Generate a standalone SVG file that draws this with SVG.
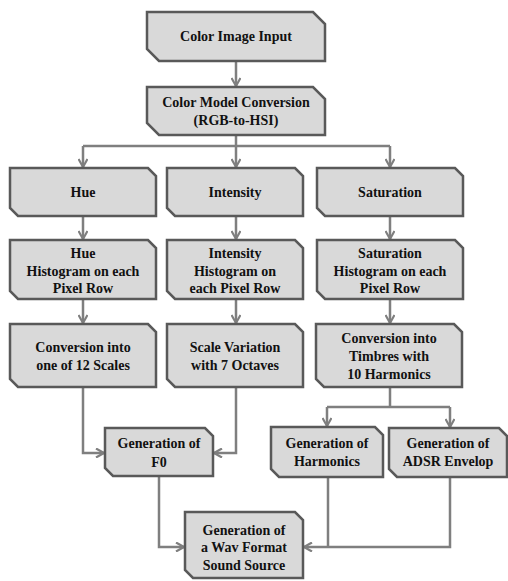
<svg xmlns="http://www.w3.org/2000/svg" width="508" height="581" viewBox="0 0 508 581">
<defs>
<style>
.box{fill:#d9d9d9;stroke:#595959;stroke-width:2.5;stroke-linejoin:miter}
.t{font-family:'Liberation Serif','Times New Roman','DejaVu Serif',serif;font-weight:bold;font-size:14px;fill:#111;text-anchor:middle}
.c{fill:none;stroke:#7f7f7f;stroke-width:2.5}
</style>
<marker id="ah" viewBox="0 0 10 10" refX="9" refY="5" markerWidth="10" markerHeight="10" markerUnits="userSpaceOnUse" orient="auto">
<path d="M1,0.5 L9,5 L1,9.5" fill="none" stroke="#7f7f7f" stroke-width="2.2"/>
</marker>
</defs>
<rect width="508" height="581" fill="#fff"/>
<g id="connectors">
<path class="c" d="M236,61 V86" marker-end="url(#ah)"/>
<path class="c" d="M236,135 V146 M83,146 H390"/>
<path class="c" d="M83,146 V167" marker-end="url(#ah)"/>
<path class="c" d="M236,146 V167" marker-end="url(#ah)"/>
<path class="c" d="M390,146 V167" marker-end="url(#ah)"/>
<path class="c" d="M83,216 V239" marker-end="url(#ah)"/>
<path class="c" d="M236,216 V239" marker-end="url(#ah)"/>
<path class="c" d="M390,216 V239" marker-end="url(#ah)"/>
<path class="c" d="M83,299 V323" marker-end="url(#ah)"/>
<path class="c" d="M236,299 V323" marker-end="url(#ah)"/>
<path class="c" d="M390,299 V323" marker-end="url(#ah)"/>
<path class="c" d="M83,387 V453 H104" marker-end="url(#ah)"/>
<path class="c" d="M236,387 V453 H214" marker-end="url(#ah)"/>
<path class="c" d="M390,387 V407 M327,407 H450"/>
<path class="c" d="M327,407 V426" marker-end="url(#ah)"/>
<path class="c" d="M450,407 V427" marker-end="url(#ah)"/>
<path class="c" d="M159,476 V547 H184" marker-end="url(#ah)"/>
<path class="c" d="M328,477 V547"/>
<path class="c" d="M450,477 V547 H304" marker-end="url(#ah)"/>
</g>
<g id="n1"><path class="box" d="M147,12 H313 L325,24 V61 H159 L147,49 Z"/><text class="t" font-family="Liberation Serif" x="236" y="41">Color Image Input</text></g>
<g id="n2"><path class="box" d="M147,87 H313 L325,99 V135 H159 L147,123 Z"/><text class="t" x="236" y="107">Color Model Conversion</text><text class="t" x="236" y="125">(RGB-to-HSI)</text></g>
<g id="hue"><path class="box" d="M10,168 H148 L156,176 V216 H18 L10,208 Z"/><text class="t" x="83" y="197">Hue</text></g>
<g id="intensity"><path class="box" d="M167,168 H295 L303,176 V216 H175 L167,208 Z"/><text class="t" x="235" y="197">Intensity</text></g>
<g id="saturation"><path class="box" d="M317,168 H455 L463,176 V216 H325 L317,208 Z"/><text class="t" x="390" y="197">Saturation</text></g>
<g id="hueHist"><path class="box" d="M10,240 H148 L156,248 V299 H18 L10,291 Z"/><text class="t" x="83" y="258">Hue</text><text class="t" x="83" y="276">Histogram on each</text><text class="t" x="83" y="293">Pixel Row</text></g>
<g id="intHist"><path class="box" d="M167,240 H295 L303,248 V299 H175 L167,291 Z"/><text class="t" x="235" y="258">Intensity</text><text class="t" x="235" y="276">Histogram on</text><text class="t" x="235" y="293">each Pixel Row</text></g>
<g id="satHist"><path class="box" d="M317,240 H455 L463,248 V299 H325 L317,291 Z"/><text class="t" x="390" y="258">Saturation</text><text class="t" x="390" y="276">Histogram on each</text><text class="t" x="390" y="293">Pixel Row</text></g>
<g id="hueConv"><path class="box" d="M10,324 H148 L156,332 V387 H18 L10,379 Z"/><text class="t" x="83" y="352">Conversion into</text><text class="t" x="83" y="370">one of 12 Scales</text></g>
<g id="intConv"><path class="box" d="M167,324 H295 L303,332 V387 H175 L167,379 Z"/><text class="t" x="235" y="352">Scale Variation</text><text class="t" x="235" y="370">with 7 Octaves</text></g>
<g id="satConv"><path class="box" d="M316,324 H454 L462,332 V387 H324 L316,379 Z"/><text class="t" x="389" y="343">Conversion into</text><text class="t" x="389" y="361">Timbres with</text><text class="t" x="389" y="379">10 Harmonics</text></g>
<g id="f0"><path class="box" d="M105,428 H205 L213,436 V476 H113 L105,468 Z"/><text class="t" x="159" y="448">Generation of</text><text class="t" x="159" y="467">F0</text></g>
<g id="harm"><path class="box" d="M271,427 H375 L383,435 V477 H279 L271,469 Z"/><text class="t" x="327" y="448">Generation of</text><text class="t" x="327" y="466">Harmonics</text></g>
<g id="adsr"><path class="box" d="M389,428 H499 L507,436 V477 H397 L389,469 Z"/><text class="t" x="448" y="448">Generation of</text><text class="t" x="448" y="466">ADSR Envelop</text></g>
<g id="wav"><path class="box" d="M185,512 H295 L303,520 V578 H193 L185,570 Z"/><text class="t" x="244" y="535">Generation of</text><text class="t" x="244" y="552">a Wav Format</text><text class="t" x="244" y="570">Sound Source</text></g>
</svg>
